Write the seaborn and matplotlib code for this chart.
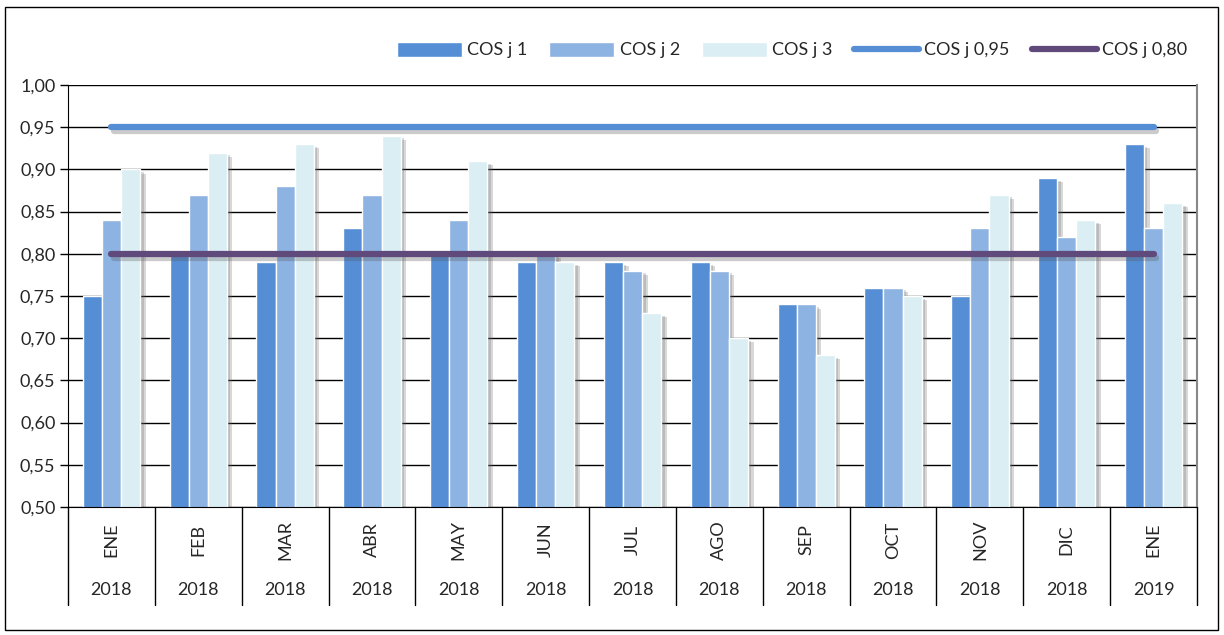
import pandas as pd
import numpy as np
import matplotlib
matplotlib.use("Agg")
import matplotlib.pyplot as plt
import matplotlib.patheffects as pe
from matplotlib.patches import Patch, Rectangle
from matplotlib.lines import Line2D
from matplotlib.ticker import FuncFormatter
import seaborn as sns

# Data
meses = ["ENE", "FEB", "MAR", "ABR", "MAY", "JUN", "JUL", "AGO", "SEP", "OCT", "NOV", "DIC", "ENE"]
anios = ["2018"] * 12 + ["2019"]
cos_j1 = [0.75, 0.80, 0.79, 0.83, 0.80, 0.79, 0.79, 0.79, 0.74, 0.76, 0.75, 0.89, 0.93]
cos_j2 = [0.84, 0.87, 0.88, 0.87, 0.84, 0.80, 0.78, 0.78, 0.74, 0.76, 0.83, 0.82, 0.83]
cos_j3 = [0.90, 0.92, 0.93, 0.94, 0.91, 0.79, 0.73, 0.70, 0.68, 0.75, 0.87, 0.84, 0.86]
limite_095 = [0.95] * 13
limite_080 = [0.80] * 13

series = ["COS j 1", "COS j 2", "COS j 3"]
colores = ["#558ED5", "#8DB3E2", "#DBEEF4"]

periodos = [f"{m} {a}" for m, a in zip(meses, anios)]
df = pd.DataFrame({
    "periodo": periodos * 3,
    "serie": np.repeat(series, len(periodos)),
    "valor": cos_j1 + cos_j2 + cos_j3,
})

sns.set_style("white")
plt.rcParams["font.family"] = ["Lato", "DejaVu Sans"]

fig = plt.figure(figsize=(12.24, 6.35), dpi=100)
ax = fig.add_axes([68 / 1224, 1 - 507 / 635, (1197 - 68) / 1224, (507 - 85) / 635])

sombra = [pe.SimplePatchShadow(offset=(2.5, -2), shadow_rgbFace="#666666", alpha=0.25),
          pe.SimplePatchShadow(offset=(4, -3), shadow_rgbFace="#666666", alpha=0.25),
          pe.Normal()]

sns.barplot(
    data=df, x="periodo", y="valor", hue="serie",
    palette=colores, width=0.66, ax=ax, legend=False,
    saturation=1, order=periodos,
)
for bar in ax.patches:
    bar.set_path_effects(sombra)
    bar.set_zorder(2)

x = np.arange(len(periodos))
lineas = [
    (limite_095, "#558ED5", "COS j 0,95"),
    (limite_080, "#604A7B", "COS j 0,80"),
]
for vals, col, lab in lineas:
    ax.plot(x, vals, color=col, lw=4.5, solid_capstyle="round", zorder=4,
            path_effects=[pe.SimpleLineShadow(offset=(2, -3), shadow_color="#555555", alpha=0.3), pe.Normal()])

ax.set_ylim(0.5, 1.0)
ax.set_xlim(-0.5, len(periodos) - 0.5)
ax.set_yticks(np.arange(0.5, 1.0001, 0.05))
ax.yaxis.set_major_formatter(FuncFormatter(lambda v, p: f"{v:.2f}".replace(".", ",")))
ax.tick_params(axis="y", labelsize=13, length=6, width=1, color="black", left=True, pad=3)
ax.grid(axis="y", color="black", lw=1, zorder=0)
ax.set_axisbelow(True)
ax.set_xlabel("")
ax.set_ylabel("")
ax.set_xticks([])

ax.spines["left"].set_color("black")
ax.spines["bottom"].set_color("black")
ax.spines["top"].set_visible(False)
ax.spines["right"].set_visible(True)
ax.spines["right"].set_color("#888888")
ax.spines["right"].set_linewidth(1.5)

# category axis (two levels)
trans = ax.get_xaxis_transform()
y_fondo = -(605 - 507) / (507 - 85)
for i in range(len(periodos) + 1):
    ax.plot([i - 0.5, i - 0.5], [0, y_fondo], transform=trans, color="black",
            lw=1, clip_on=False)
for i, (m, a) in enumerate(zip(meses, anios)):
    ax.text(i, -(540 - 507) / 422, m, transform=trans, rotation=90,
            ha="center", va="center", fontsize=13)
    ax.text(i, -(590 - 507) / 422, a, transform=trans,
            ha="center", va="center", fontsize=13)

# legend
handles = [Patch(facecolor=c, label=s) for c, s in zip(colores, series)]
handles += [Line2D([0], [0], color=col, lw=4.5, solid_capstyle="round", label=lab)
            for _, col, lab in lineas]
fig.legend(handles=handles, loc="center", bbox_to_anchor=(792 / 1224, 1 - 50 / 635),
           ncol=5, frameon=False, fontsize=13, handlelength=3.6, handleheight=0.9,
           handletextpad=0.3, columnspacing=1.2)

# outer frame
fig.patches.append(Rectangle((5 / 1224, 5 / 635), 1213 / 1224, 623 / 635,
                             transform=fig.transFigure, fill=False,
                             edgecolor="black", lw=1))

fig.savefig("out.png", dpi=100)
